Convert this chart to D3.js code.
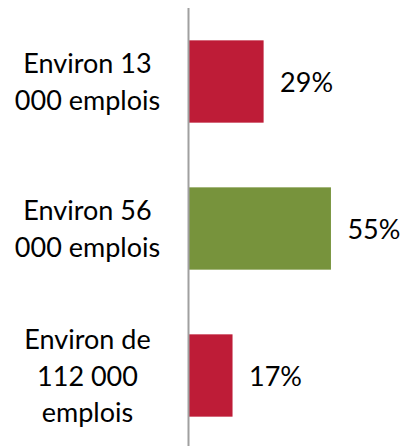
<!DOCTYPE html>
<html><head><meta charset="utf-8">
<script src="https://cdn.jsdelivr.net/npm/d3@7"></script>
<style>html,body{margin:0;padding:0;background:#fff;}svg{display:block;}</style>
</head><body>
<svg id="chart" width="401" height="446"></svg>
<script>
const categories = ["Environ 13 000 emplois", "Environ 56 000 emplois", "Environ de 112 000 emplois"];
const categoryLines = [["Environ 13", "000 emplois"], ["Environ 56", "000 emplois"], ["Environ de", "112 000", "emplois"]];
const values = [29, 55, 17];
const valueLabels = ["29%", "55%", "17%"];
const barColors = ["#BE1C37", "#77933C", "#BE1C37"];

const svg = d3.select("#chart");
const axisX = 188.5;
const x = d3.scaleLinear().domain([0, 100]).range([axisX, axisX + 259]);
const y = d3.scaleBand().domain(categories).range([8, 449]).paddingInner(0.44).paddingOuter(0.22);
const font = "Lato, 'Open Sans', sans-serif";
const fs = 27, lh = 36.3;

svg.selectAll("rect.bar").data(values).join("rect")
  .attr("class", "bar")
  .attr("x", x(0))
  .attr("y", (d, i) => y(categories[i]))
  .attr("width", d => x(d) - x(0))
  .attr("height", y.bandwidth())
  .attr("fill", (d, i) => barColors[i]);

svg.append("line").attr("x1", axisX).attr("x2", axisX).attr("y1", 8).attr("y2", 446)
  .attr("stroke", "#A0A0A0").attr("stroke-width", 2);

svg.selectAll("text.val").data(values).join("text")
  .attr("class", "val")
  .attr("x", d => x(d) + 16.5)
  .attr("y", (d, i) => y(categories[i]) + y.bandwidth() / 2 + 10)
  .attr("font-family", font).attr("font-size", fs).attr("fill", "#000")
  .text((d, i) => valueLabels[i]);

categories.forEach((c, i) => {
  const lines = categoryLines[i];
  const cy = y(c) + y.bandwidth() / 2;
  const t = svg.append("text").attr("text-anchor", "middle")
    .attr("font-family", font).attr("font-size", fs).attr("fill", "#000");
  lines.forEach((ln, j) => {
    t.append("tspan").attr("x", 87.5)
      .attr("y", cy + 10 + (j - (lines.length - 1) / 2) * lh)
      .text(ln);
  });
});
</script>
</body></html>
